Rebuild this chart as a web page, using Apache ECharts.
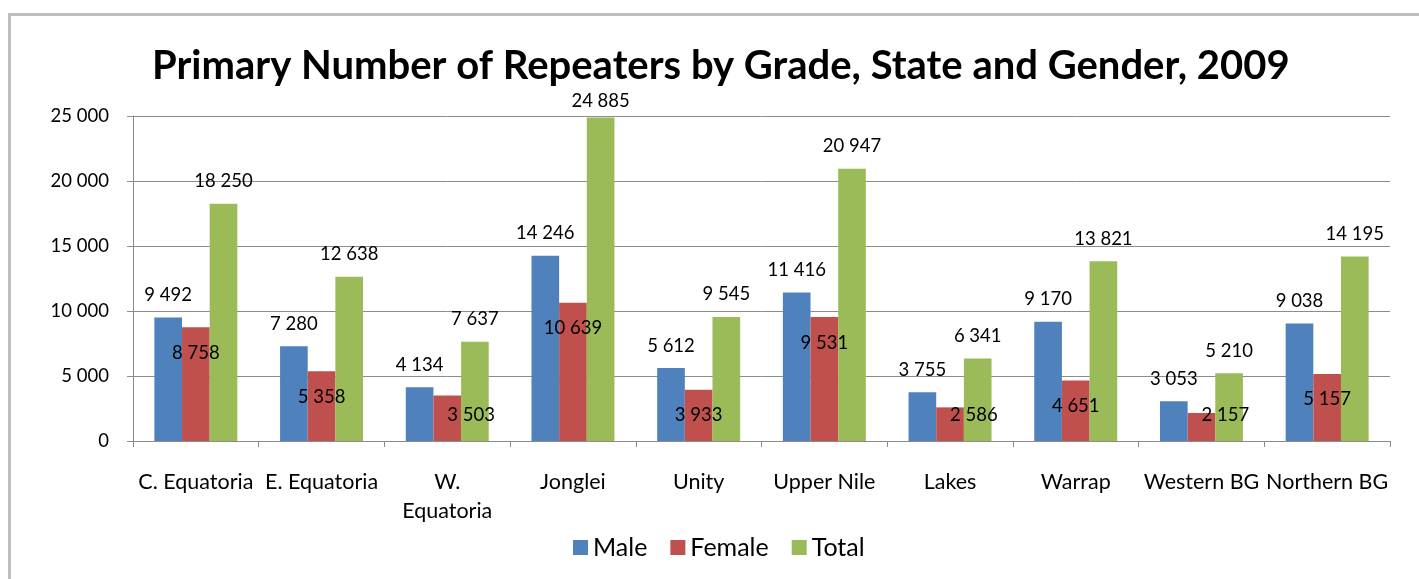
<!DOCTYPE html>
<html>
<head>
<meta charset="utf-8">
<script src="https://cdn.jsdelivr.net/npm/echarts@6/dist/echarts.min.js"></script>
<style>
  html, body { margin: 0; padding: 0; background: #fff; }
  #chart { width: 1419px; height: 579px; }
</style>
</head>
<body>
<div id="chart"></div>
<script>
// States (categories along the x axis)
const states = ['C. Equatoria', 'E. Equatoria', 'W.\nEquatoria', 'Jonglei', 'Unity',
                'Upper Nile', 'Lakes', 'Warrap', 'Western BG', 'Northern BG'];
// Repeaters per state
const male   = [9492, 7280, 4134, 14246, 5612, 11416, 3755, 9170, 3053, 9038];
const female = [8758, 5358, 3503, 10639, 3933, 9531, 2586, 4651, 2157, 5157];
const total  = [18250, 12638, 7637, 24885, 9545, 20947, 6341, 13821, 5210, 14195];
// Value axis
const yMin = 0, yMax = 25000, yStep = 5000;

const FONT = 'Lato, "Noto Sans", sans-serif';
const GRID_TOP = 116;
const fmt = v => String(v).replace(/\B(?=(\d{3})+(?!\d))/g, ' ');

const chart = echarts.init(document.getElementById('chart'));

const topLabel = {
  show: true, position: 'top', distance: 13,
  color: '#000', fontFamily: FONT, fontSize: 18.5,
  formatter: p => fmt(p.value)
};

// labels above the tallest bars stay close to the plot area
const clampTop = p => {
  const r = p.labelRect;
  const cy = r.y + r.height / 2;
  const minCy = GRID_TOP - 15;
  if (cy < minCy) {
    return { x: r.x + r.width / 2, y: minCy, align: 'center', verticalAlign: 'middle' };
  }
  return {};
};

chart.setOption({
  animation: false,
  textStyle: { fontFamily: FONT },
  title: {
    text: 'Primary Number of Repeaters by Grade, State and Gender, 2009',
    left: 147, top: 41,
    textStyle: { fontFamily: FONT, fontSize: 40, fontWeight: 'bold', color: '#000' }
  },
  graphic: [{
    type: 'rect', silent: true, z: -1,
    shape: { x: 9.5, y: 14.5, width: 1500, height: 700 },
    style: { fill: 'none', stroke: '#bfbfbf', lineWidth: 3 }
  }],
  legend: {
    bottom: 14, left: 568,
    itemWidth: 15, itemHeight: 15, itemGap: 23,
    icon: 'rect',
    textStyle: { fontFamily: FONT, fontSize: 25, color: '#000' },
    data: ['Male', 'Female', 'Total']
  },
  grid: { left: 133, right: 29, top: GRID_TOP, bottom: 138 },
  xAxis: {
    type: 'category', data: states,
    axisLine: { lineStyle: { color: '#8c8c8c', width: 1 } },
    axisTick: { show: true, length: 6, lineStyle: { color: '#8c8c8c' } },
    axisLabel: { color: '#000', fontFamily: FONT, fontSize: 21.5, margin: 27, lineHeight: 29, interval: 0 }
  },
  yAxis: {
    type: 'value', min: yMin, max: yMax, interval: yStep,
    axisLine: { show: true, lineStyle: { color: '#8c8c8c' } },
    axisTick: { show: true, inside: false, length: 6, lineStyle: { color: '#8c8c8c' } },
    splitLine: { lineStyle: { color: '#8c8c8c', width: 1 } },
    axisLabel: { color: '#000', fontFamily: FONT, fontSize: 18.5, margin: 24, formatter: v => fmt(v) }
  },
  series: [
    {
      name: 'Male', type: 'bar', data: male,
      barGap: '0%', barCategoryGap: '34%',
      itemStyle: { color: '#4f81bd' },
      label: topLabel
    },
    {
      name: 'Female', type: 'bar', data: female,
      barGap: '0%', barCategoryGap: '34%',
      itemStyle: { color: '#c0504d' },
      label: {
        show: true, position: 'insideTop', distance: 16,
        color: '#000', fontFamily: FONT, fontSize: 18.5,
        formatter: p => fmt(p.value)
      },
      // keep short-bar labels from sliding below the base of the bar
      labelLayout: p => {
        const base = p.rect.y + p.rect.height - 16;
        const bottom = p.labelRect.y + p.labelRect.height;
        if (bottom > base) {
          return { y: p.labelRect.y - (bottom - base) };
        }
        return {};
      }
    },
    {
      name: 'Total', type: 'bar', data: total,
      barGap: '0%', barCategoryGap: '34%',
      itemStyle: { color: '#9bbb59' },
      label: topLabel,
      labelLayout: clampTop
    }
  ]
});
</script>
</body>
</html>
